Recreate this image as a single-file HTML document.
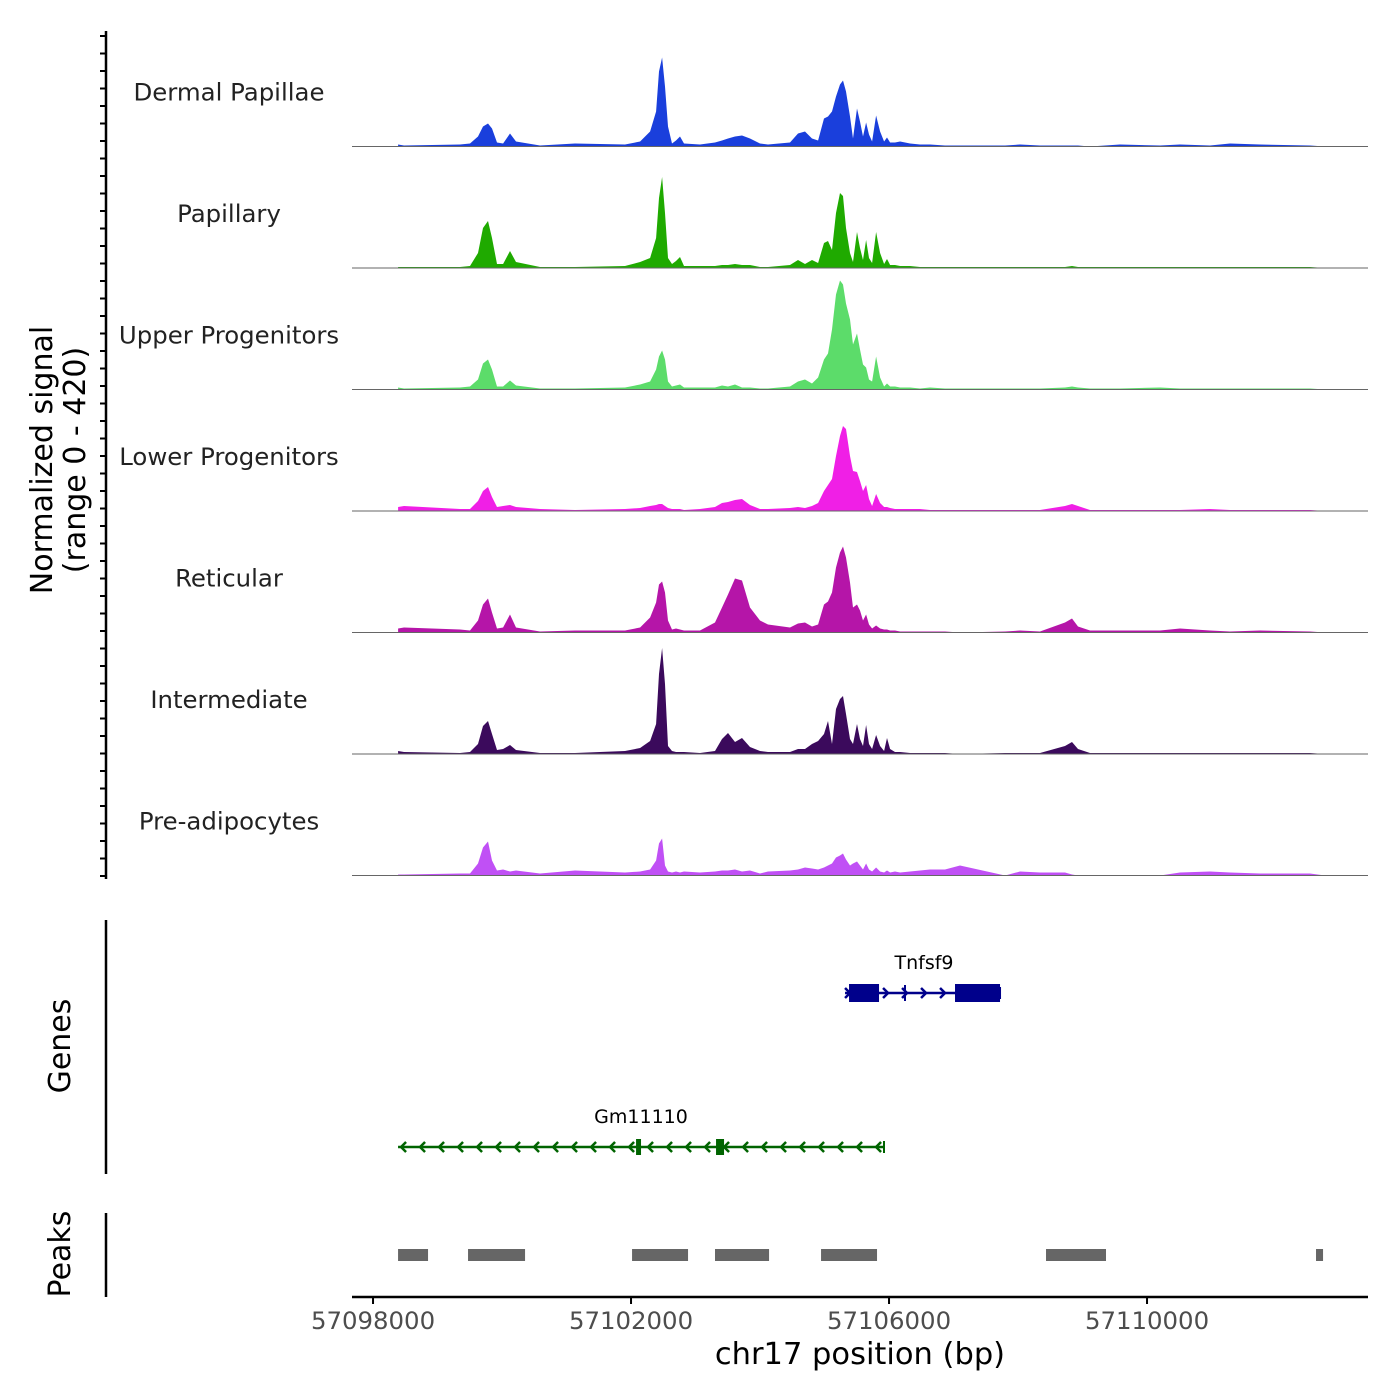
<!DOCTYPE html>
<html><head><meta charset="utf-8"><style>
body{margin:0;background:#fff}
svg{display:block;font-family:"DejaVu Sans","Liberation Sans",sans-serif}
</style></head><body>
<svg id="chart" width="1400" height="1400" viewBox="0 0 1400 1400" xmlns="http://www.w3.org/2000/svg"></svg>
<script>
const positions=[57098388,57098480,57099349,57099504,57099628,57099705,57099783,57099845,57099922,57100016,57100124,57100217,57100589,57101132,57101907,57102140,57102295,57102388,57102434,57102481,57102527,57102574,57102636,57102698,57102760,57102822,57103070,57103302,57103411,57103504,57103612,57103721,57103845,57104000,57104124,57104465,57104589,57104698,57104806,57104900,57104992,57105054,57105116,57105178,57105240,57105287,57105333,57105395,57105442,57105504,57105550,57105597,57105644,57105690,57105737,57105799,57105861,57105923,57105969,57106016,57106093,57106171,57106326,57106481,57106636,57106868,57107101,57107799,57108031,57108341,57108729,57108837,57108930,57109116,57109581,57110202,57110512,57110977,57111287,57111752,57112527,57112760];
const groups=["Dermal Papillae","Papillary","Upper Progenitors","Lower Progenitors","Reticular","Intermediate","Pre-adipocytes"];
const groupColors=["#1a3fdc","#1faa00","#5cdc6a","#f01fe6","#b515a8","#3b0a5c","#c050f5"];
const dermalValues=[2,1,2,3,10,20,23,18,4,3,13,5,1,3,2,5,15,35,75,89,60,20,3,6,10,3,2,4,6,8,10,11,8,3,2,4,13,15,8,6,28,30,35,50,62,66,55,30,8,38,25,10,24,12,5,31,15,5,9,4,4,5,3,2,2,1,1,1,2,1,1,1,1,0,2,1,2,1,3,2,1,0];
const papillaryValues=[1,1,1,2,15,40,47,30,4,4,17,6,1,1,2,6,10,30,70,91,55,10,4,7,11,2,2,2,3,3,4,3,3,1,1,3,8,4,8,5,25,27,18,55,75,72,40,15,6,36,20,8,28,10,5,36,15,4,9,3,3,2,2,1,1,1,1,1,1,1,1,2,1,1,1,1,1,1,1,1,1,0];
const upperValues=[2,1,2,3,10,26,30,20,3,3,9,4,1,1,2,5,8,20,33,39,30,8,3,4,5,2,2,2,4,3,5,2,2,1,1,3,8,10,6,12,30,36,60,95,109,105,86,70,45,56,40,25,22,10,8,33,12,3,6,3,3,2,2,1,2,1,1,1,1,1,2,3,2,1,1,2,1,1,1,1,1,0];
const lowerValues=[4,5,2,2,10,20,24,14,4,5,6,4,2,1,2,3,5,6,7,7,5,3,2,2,2,1,2,4,8,9,11,12,6,2,2,3,4,3,5,8,20,26,32,55,75,85,82,55,40,39,30,20,26,12,5,17,8,4,4,3,2,2,2,2,1,1,1,1,1,1,5,7,5,1,1,1,1,2,1,1,1,0];
const reticularValues=[4,5,3,2,12,28,34,20,4,5,18,5,1,2,2,5,15,30,48,51,40,12,3,4,3,2,2,10,25,38,54,52,25,12,8,5,9,10,6,8,28,31,40,65,80,86,75,50,25,28,22,12,18,8,4,7,4,3,3,2,2,1,1,1,1,1,0,1,2,1,10,14,6,2,2,2,4,2,1,2,1,0];
const intermediateValues=[3,2,1,2,10,28,33,20,4,5,9,4,1,1,3,6,13,30,80,106,70,8,3,2,2,2,1,3,15,21,12,16,7,3,2,2,5,5,10,13,20,33,10,45,55,58,40,15,10,30,15,8,29,10,5,19,8,3,16,5,2,2,1,1,1,1,0,1,1,1,8,12,5,1,1,1,1,1,1,1,1,0];
const preadipoValues=[1,1,2,2,12,28,34,15,5,6,4,5,2,5,3,4,6,15,32,37,10,4,3,4,3,4,3,4,5,5,6,4,5,2,4,5,6,8,7,6,8,10,12,18,20,22,16,10,12,14,10,6,12,6,4,8,4,3,5,3,4,3,4,5,6,6,10,0,4,3,3,1,0,0,0,0,3,4,3,2,2,0];
const seriesValues=[dermalValues,papillaryValues,upperValues,lowerValues,reticularValues,intermediateValues,preadipoValues];
const yMax=121;
const xTicks=[57098000,57102000,57106000,57110000];
const xTickLabels=["57098000","57102000","57106000","57110000"];
const peakStarts=[57098388,57099473,57102016,57103302,57104946,57108434,57112620];
const peakEnds=[57098853,57100357,57102884,57104140,57105814,57109364,57112729];
const geneNames=["Tnfsf9","Gm11110"];
const geneStarts=[57105318,57098388];
const geneEnds=[57107721,57105922];
const geneStrands=[1,-1];
const geneExons=[[[57105380,57105845],[57107023,57107721]],[[57102078,57102155],[57103318,57103442]]];

const NS="http://www.w3.org/2000/svg";
const svg=document.getElementById('chart');
const X0=352,X1=1368,D0=57097674,D1=57113426;
function xs(v){return X0+(v-D0)/(D1-D0)*(X1-X0);}
const trackH=121.5, firstBase=146.5;
function ys(v,k){return firstBase+k*trackH - v/yMax*121;}
function mk(tag,attrs,parent){const e=document.createElementNS(NS,tag);for(const k in attrs)e.setAttribute(k,attrs[k]);(parent||svg).appendChild(e);return e;}
function txt(s,attrs,parent){const e=mk('text',attrs,parent);e.textContent=s;return e;}

groups.forEach((g,k)=>{
  const vals=seriesValues[k];
  const base=firstBase+k*trackH;
  let d='M'+xs(positions[0]).toFixed(1)+','+base;
  positions.forEach((p,i)=>{d+=' L'+xs(p).toFixed(1)+','+ys(vals[i],k).toFixed(1);});
  d+=' L'+xs(positions[positions.length-1]).toFixed(1)+','+base+' Z';
  const a=mk('path',{d:d,fill:groupColors[k],stroke:'none'});
  
  
  const bl=mk('line',{x1:X0,x2:X1,y1:base,y2:base,stroke:'#666','stroke-width':1});
  
  
  const t=txt(g,{x:229,y:base-46,'text-anchor':'middle','font-size':24.4,fill:'#222'});
  
  
});

const ax=mk('line',{x1:106,x2:106,y1:31,y2:879,stroke:'#000','stroke-width':2.5});


for(let y=36;y<=878;y+=17.5){
  const tk=mk('line',{x1:100,x2:106,y1:y,y2:y,stroke:'#000','stroke-width':2});
  
  
}
const yt=mk('text',{transform:'translate(52,460) rotate(-90)','text-anchor':'middle','font-size':30,fill:'#000'});


const ts1=mk('tspan',{x:0,dy:0},yt);ts1.textContent='Normalized signal';
const ts2=mk('tspan',{x:0,dy:33},yt);ts2.textContent='(range 0 - 420)';

const gax=mk('line',{x1:106,x2:106,y1:920,y2:1174,stroke:'#000','stroke-width':2.5});


const gt=txt('Genes',{transform:'translate(70,1046) rotate(-90)','text-anchor':'middle','font-size':30});


const geneY=[993,1147], geneCol=['#00008b','#006400'], labelY=[969,1123];
geneNames.forEach((n,i)=>{
  const g=mk('g',{});
  
  
  const y=geneY[i],c=geneCol[i];
  mk('line',{x1:xs(geneStarts[i]),x2:xs(geneEnds[i]),y1:y,y2:y,stroke:c,'stroke-width':2.5},g);
  const step=19;
  for(let x=xs(geneStarts[i])+4;x<xs(geneEnds[i])-2;x+=step){
    const s=geneStrands[i];
    mk('polyline',{points:`${x-4*s},${y-5} ${x+1*s},${y} ${x-4*s},${y+5}`,fill:'none',stroke:c,'stroke-width':2.5},g);
  }
  mk('line',{x1:xs(geneEnds[i]),x2:xs(geneEnds[i]),y1:y-6,y2:y+6,stroke:c,'stroke-width':2},g);
  if(i==0) mk('line',{x1:905,x2:905,y1:y-8,y2:y+8,stroke:c,'stroke-width':2},g);
  geneExons[i].forEach(e=>{
    const w=xs(e[1])-xs(e[0]);
    mk('rect',{x:xs(e[0]),y:y-(i==0?9:8),width:Math.max(w,4),height:i==0?18:16,fill:c},g);
  });
  const lb=txt(n,{x:(i==0?924:641),y:labelY[i],'text-anchor':'middle','font-size':19,fill:'#000'});
  
  
});

const pax=mk('line',{x1:106,x2:106,y1:1213,y2:1297,stroke:'#000','stroke-width':2.5});


const pt=txt('Peaks',{transform:'translate(70,1254) rotate(-90)','text-anchor':'middle','font-size':30});


peakStarts.forEach((s,i)=>{
  const r=mk('rect',{x:xs(s),y:1249,width:xs(peakEnds[i])-xs(s),height:12,fill:'#666'});
  
  
});

const xa=mk('line',{x1:X0,x2:X1,y1:1297,y2:1297,stroke:'#000','stroke-width':2.5});


xTicks.forEach((t,i)=>{
  const tk=mk('line',{x1:xs(t),x2:xs(t),y1:1297,y2:1304,stroke:'#000','stroke-width':2});
  
  
  const l=txt(xTickLabels[i],{x:xs(t),y:1329,'text-anchor':'middle','font-size':24.4,fill:'#4d4d4d'});
  
  
});
const xt=txt('chr17 position (bp)',{x:860,y:1364,'text-anchor':'middle','font-size':30.5,fill:'#000'});


</script>
</body></html>
